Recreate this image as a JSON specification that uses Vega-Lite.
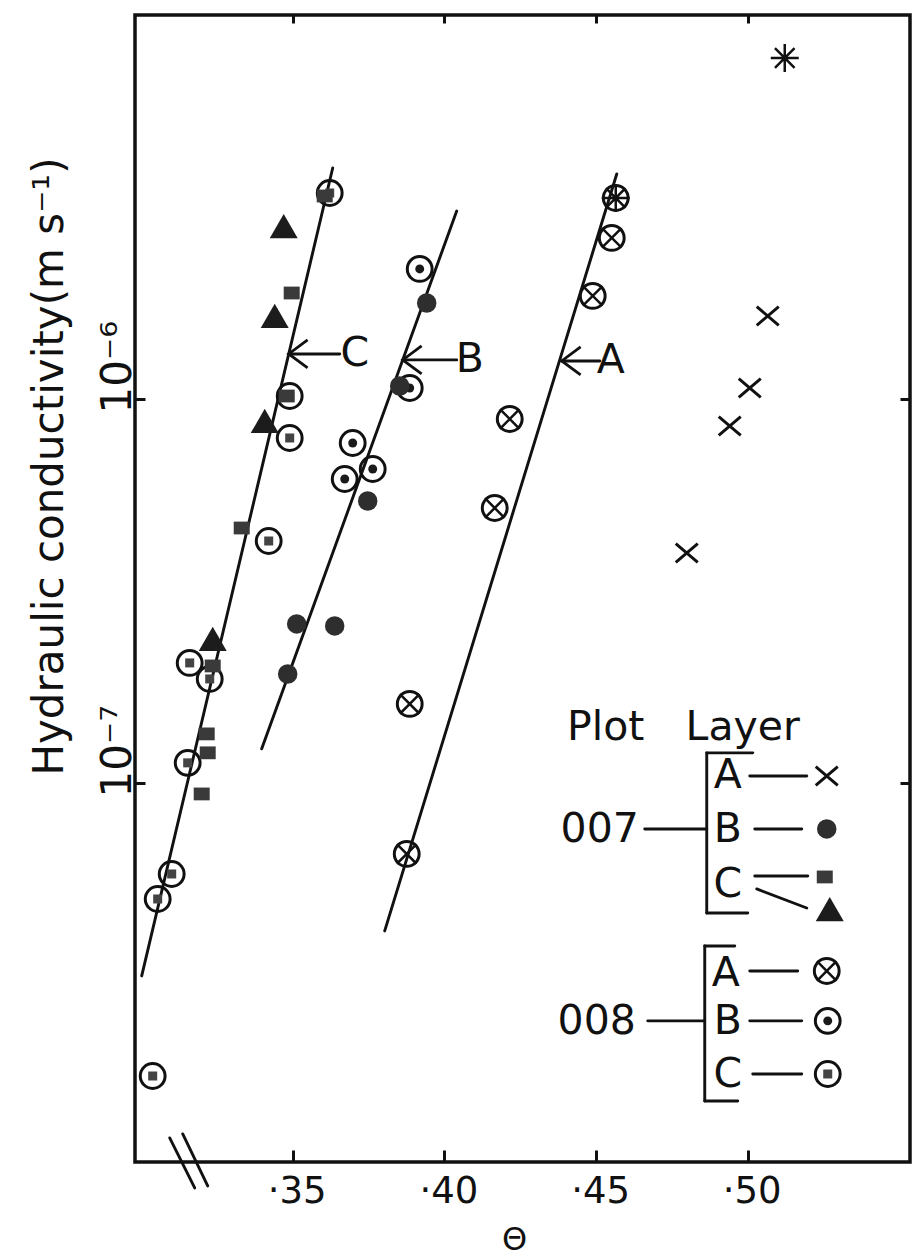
{
  "$schema": "https://vega.github.io/schema/vega-lite/v6.json",
  "width": 775,
  "height": 1147,
  "autosize": {"type": "none"},
  "padding": {"left": 135, "top": 15, "right": 5, "bottom": 94},
  "background": "white",
  "config": {
    "view": {"stroke": "#111", "strokeWidth": 3.5},
    "axis": {
      "domain": false,
      "grid": false,
      "tickColor": "#111",
      "tickWidth": 3,
      "labelColor": "#111",
      "titleColor": "#111",
      "labelFont": "DejaVu Sans",
      "titleFont": "DejaVu Sans",
      "titleFontWeight": "normal"
    },
    "text": {"font": "DejaVu Sans", "color": "#111"}
  },
  "datasets": {
    "segments": [
      {"kind": "fit C", "t1": 0.30021, "k1": 3.144e-8, "t2": 0.36318, "k2": 3.995e-6},
      {"kind": "fit B", "t1": 0.33977, "k1": 1.227e-7, "t2": 0.40406, "k2": 3.087e-6},
      {"kind": "fit A", "t1": 0.38032, "k1": 4.117e-8, "t2": 0.45682, "k2": 3.854e-6},
      {"kind": "pointer C", "t1": 0.34867, "k1": 1.310e-6, "t2": 0.36549, "k2": 1.310e-6},
      {"kind": "pointer B", "t1": 0.38626, "k1": 1.264e-6, "t2": 0.40406, "k2": 1.264e-6},
      {"kind": "pointer A", "t1": 0.43868, "k1": 1.256e-6, "t2": 0.45121, "k2": 1.256e-6},
      {"kind": "bracket 007", "t1": 0.48649, "k1": 1.198e-7, "t2": 0.48649, "k2": 4.586e-8},
      {"kind": "bracket 007", "t1": 0.48649, "k1": 1.198e-7, "t2": 0.50166, "k2": 1.198e-7},
      {"kind": "bracket 007", "t1": 0.48649, "k1": 4.586e-8, "t2": 0.50001, "k2": 4.586e-8},
      {"kind": "bracket 008", "t1": 0.48583, "k1": 3.763e-8, "t2": 0.48583, "k2": 1.485e-8},
      {"kind": "bracket 008", "t1": 0.48583, "k1": 3.763e-8, "t2": 0.49572, "k2": 3.763e-8},
      {"kind": "bracket 008", "t1": 0.48583, "k1": 1.485e-8, "t2": 0.49671, "k2": 1.485e-8},
      {"kind": "key", "t1": 0.46605, "k1": 7.590e-8, "t2": 0.48649, "k2": 7.590e-8},
      {"kind": "key", "t1": 0.50067, "k1": 1.043e-7, "t2": 0.51946, "k2": 1.043e-7},
      {"kind": "key", "t1": 0.50232, "k1": 7.590e-8, "t2": 0.51781, "k2": 7.590e-8},
      {"kind": "key", "t1": 0.50232, "k1": 5.725e-8, "t2": 0.51979, "k2": 5.725e-8},
      {"kind": "key", "t1": 0.50297, "k1": 5.296e-8, "t2": 0.51946, "k2": 4.724e-8},
      {"kind": "key", "t1": 0.46704, "k1": 2.401e-8, "t2": 0.48583, "k2": 2.401e-8},
      {"kind": "key", "t1": 0.50067, "k1": 3.238e-8, "t2": 0.51649, "k2": 3.238e-8},
      {"kind": "key", "t1": 0.50067, "k1": 2.401e-8, "t2": 0.51781, "k2": 2.401e-8},
      {"kind": "key", "t1": 0.50166, "k1": 1.746e-8, "t2": 0.51781, "k2": 1.746e-8},
      {"kind": "axis break", "t1": 0.30944, "k1": 1.190e-8, "t2": 0.31768, "k2": 8.818e-9},
      {"kind": "axis break", "t1": 0.31373, "k1": 1.219e-8, "t2": 0.32197, "k2": 8.925e-9}
    ],
    "pointers": [
      {"line": "C", "theta": 0.34867, "K": 1.310e-6},
      {"line": "B", "theta": 0.38626, "K": 1.264e-6},
      {"line": "A", "theta": 0.43868, "K": 1.256e-6}
    ],
    "points": [
      {"sym": "007A", "theta": 0.47990, "K": 3.971e-7},
      {"sym": "007A", "theta": 0.49407, "K": 8.504e-7},
      {"sym": "007A", "theta": 0.50067, "K": 1.068e-6},
      {"sym": "007A", "theta": 0.50660, "K": 1.645e-6},
      {"sym": "star", "theta": 0.51221, "K": 7.727e-6},
      {"sym": "007B", "theta": 0.39417, "K": 1.778e-6},
      {"sym": "007B", "theta": 0.38527, "K": 1.081e-6},
      {"sym": "007B", "theta": 0.37472, "K": 5.424e-7},
      {"sym": "007B", "theta": 0.35131, "K": 2.595e-7},
      {"sym": "007B", "theta": 0.36384, "K": 2.564e-7},
      {"sym": "007B", "theta": 0.34834, "K": 1.922e-7},
      {"sym": "007C-sq", "theta": 0.36054, "K": 3.378e-6},
      {"sym": "007C-sq", "theta": 0.34966, "K": 1.888e-6},
      {"sym": "007C-sq", "theta": 0.34801, "K": 1.018e-6},
      {"sym": "007C-sq", "theta": 0.33318, "K": 4.613e-7},
      {"sym": "007C-sq", "theta": 0.32362, "K": 2.017e-7},
      {"sym": "007C-sq", "theta": 0.32164, "K": 1.342e-7},
      {"sym": "007C-sq", "theta": 0.32197, "K": 1.198e-7},
      {"sym": "007C-sq", "theta": 0.31999, "K": 9.362e-8},
      {"sym": "007C-tri", "theta": 0.34703, "K": 2.821e-6},
      {"sym": "007C-tri", "theta": 0.34406, "K": 1.645e-6},
      {"sym": "007C-tri", "theta": 0.34076, "K": 8.764e-7},
      {"sym": "007C-tri", "theta": 0.32362, "K": 2.371e-7},
      {"sym": "008A*", "theta": 0.45649, "K": 3.337e-6},
      {"sym": "008A", "theta": 0.45517, "K": 2.627e-6},
      {"sym": "008A", "theta": 0.44890, "K": 1.855e-6},
      {"sym": "008A", "theta": 0.42154, "K": 8.870e-7},
      {"sym": "008A", "theta": 0.41659, "K": 5.201e-7},
      {"sym": "008A", "theta": 0.38857, "K": 1.606e-7},
      {"sym": "008A", "theta": 0.38758, "K": 6.533e-8},
      {"sym": "008B", "theta": 0.39186, "K": 2.181e-6},
      {"sym": "008B", "theta": 0.38857, "K": 1.068e-6},
      {"sym": "008B", "theta": 0.36977, "K": 7.681e-7},
      {"sym": "008B", "theta": 0.37637, "K": 6.572e-7},
      {"sym": "008B", "theta": 0.36714, "K": 6.189e-7},
      {"sym": "008C", "theta": 0.36219, "K": 3.439e-6},
      {"sym": "008C", "theta": 0.34900, "K": 1.018e-6},
      {"sym": "008C", "theta": 0.34900, "K": 7.915e-7},
      {"sym": "008C", "theta": 0.34208, "K": 4.267e-7},
      {"sym": "008C", "theta": 0.31603, "K": 2.054e-7},
      {"sym": "008C", "theta": 0.32263, "K": 1.866e-7},
      {"sym": "008C", "theta": 0.31537, "K": 1.128e-7},
      {"sym": "008C", "theta": 0.31010, "K": 5.794e-8},
      {"sym": "008C", "theta": 0.30548, "K": 4.987e-8},
      {"sym": "008C", "theta": 0.30383, "K": 1.725e-8},
      {"sym": "007A", "role": "key", "theta": 0.52605, "K": 1.043e-7},
      {"sym": "007B", "role": "key", "theta": 0.52605, "K": 7.590e-8},
      {"sym": "007C-sq", "role": "key", "theta": 0.52540, "K": 5.691e-8},
      {"sym": "007C-tri", "role": "key", "theta": 0.52704, "K": 4.696e-8},
      {"sym": "008A", "role": "key", "theta": 0.52605, "K": 3.238e-8},
      {"sym": "008B", "role": "key", "theta": 0.52638, "K": 2.401e-8},
      {"sym": "008C", "role": "key", "theta": 0.52638, "K": 1.746e-8}
    ],
    "labels": [
      {"label": "C", "theta": 0.37043, "K": 1.310e-6},
      {"label": "B", "theta": 0.40835, "K": 1.264e-6},
      {"label": "A", "theta": 0.45484, "K": 1.256e-6},
      {"label": "Plot", "theta": 0.45319, "K": 1.391e-7},
      {"label": "Layer", "theta": 0.49836, "K": 1.391e-7},
      {"label": "007", "theta": 0.45121, "K": 7.545e-8},
      {"label": "008", "theta": 0.45022, "K": 2.386e-8},
      {"label": "A", "theta": 0.49341, "K": 1.043e-7},
      {"label": "B", "theta": 0.49341, "K": 7.545e-8},
      {"label": "C", "theta": 0.49341, "K": 5.424e-8},
      {"label": "A", "theta": 0.49276, "K": 3.180e-8},
      {"label": "B", "theta": 0.49341, "K": 2.386e-8},
      {"label": "C", "theta": 0.49341, "K": 1.736e-8}
    ]
  },
  "resolve": {"axis": {"x": "independent", "y": "independent"}},
  "layer": [
    {
      "data": {"name": "segments"},
      "mark": {"type": "rule", "strokeWidth": 2.9, "color": "#111", "strokeCap": "round"},
      "encoding": {
        "x": {
          "field": "t1", "type": "quantitative",
          "scale": {"domain": [0.298, 0.5535], "nice": false, "zero": false},
          "axis": {
            "orient": "bottom",
            "values": [0.35, 0.4, 0.45, 0.5],
            "tickSize": -12,
            "labelExpr": "'·' + round(datum.value * 100)",
            "labelFontSize": 37,
            "labelPadding": 23,
            "labelOffset": 4,
            "title": "Θ",
            "titleFontSize": 32,
            "titleX": 379,
            "titleY": 77,
            "titleBaseline": "middle",
            "titleAlign": "center"
          }
        },
        "x2": {"field": "t2"},
        "y": {
          "field": "k1", "type": "quantitative",
          "scale": {"type": "log", "domain": [1.03e-8, 1e-5], "nice": false},
          "axis": {
            "orient": "left",
            "values": [1e-7, 1e-6],
            "tickSize": -10,
            "labelExpr": "datum.value < 5e-7 ? '10⁻⁷' : '10⁻⁶'",
            "labelAngle": 270,
            "labelAlign": "left",
            "labelBaseline": "alphabetic",
            "labelFontSize": 42,
            "labelPadding": 15,
            "labelOffset": 14,
            "title": "Hydraulic conductivity(m s⁻¹)",
            "titleFontSize": 42,
            "titleAngle": 270,
            "titleX": -73,
            "titleY": 451,
            "titleAlign": "center",
            "titleBaseline": "alphabetic"
          }
        },
        "y2": {"field": "k2"}
      }
    },
    {
      "data": {"name": "pointers"},
      "mark": {"type": "point", "shape": "M1.35,-1L0,0L1.35,1", "filled": false, "size": 784, "strokeWidth": 2.8, "color": "#111", "opacity": 1},
      "encoding": {
        "x": {
          "field": "theta", "type": "quantitative",
          "scale": {"domain": [0.298, 0.5535], "nice": false, "zero": false},
          "axis": {"orient": "top", "values": [0.35, 0.4, 0.45, 0.5], "tickSize": -8, "labels": false, "title": null}
        },
        "y": {
          "field": "K", "type": "quantitative",
          "scale": {"type": "log", "domain": [1.03e-8, 1e-5], "nice": false},
          "axis": {"orient": "right", "values": [1e-7, 1e-6], "tickSize": -10, "labels": false, "title": null}
        }
      }
    },
    {
      "data": {"name": "points"},
      "transform": [{"filter": "indexof(['008A', '008A*', '008B', '008C'], datum.sym) >= 0"}],
      "mark": {"type": "point", "shape": "circle", "filled": false, "size": 616, "strokeWidth": 3, "color": "#111", "opacity": 1},
      "encoding": {
        "x": {"field": "theta", "type": "quantitative", "scale": {"domain": [0.298, 0.5535], "nice": false, "zero": false}, "axis": null},
        "y": {"field": "K", "type": "quantitative", "scale": {"type": "log", "domain": [1.03e-8, 1e-5], "nice": false}, "axis": null}
      }
    },
    {
      "data": {"name": "points"},
      "transform": [{"filter": "datum.sym === '008A'"}],
      "mark": {"type": "point", "shape": "M-0.7,-0.7L0.7,0.7M0.7,-0.7L-0.7,0.7", "filled": false, "size": 784, "strokeWidth": 2.5, "color": "#111", "opacity": 1},
      "encoding": {
        "x": {"field": "theta", "type": "quantitative", "scale": {"domain": [0.298, 0.5535], "nice": false, "zero": false}, "axis": null},
        "y": {"field": "K", "type": "quantitative", "scale": {"type": "log", "domain": [1.03e-8, 1e-5], "nice": false}, "axis": null}
      }
    },
    {
      "data": {"name": "points"},
      "transform": [{"filter": "datum.sym === '008A*' || datum.sym === 'star'"}],
      "mark": {"type": "point", "shape": "M0,-1L0,1M-1,0L1,0M-0.7,-0.7L0.7,0.7M0.7,-0.7L-0.7,0.7", "filled": false, "size": 784, "strokeWidth": 2.5, "color": "#111", "opacity": 1},
      "encoding": {
        "x": {"field": "theta", "type": "quantitative", "scale": {"domain": [0.298, 0.5535], "nice": false, "zero": false}, "axis": null},
        "y": {"field": "K", "type": "quantitative", "scale": {"type": "log", "domain": [1.03e-8, 1e-5], "nice": false}, "axis": null}
      }
    },
    {
      "data": {"name": "points"},
      "transform": [{"filter": "datum.sym === '008B'"}],
      "mark": {"type": "point", "shape": "circle", "filled": true, "size": 80, "color": "#1a1a1a", "opacity": 1},
      "encoding": {
        "x": {"field": "theta", "type": "quantitative", "scale": {"domain": [0.298, 0.5535], "nice": false, "zero": false}, "axis": null},
        "y": {"field": "K", "type": "quantitative", "scale": {"type": "log", "domain": [1.03e-8, 1e-5], "nice": false}, "axis": null}
      }
    },
    {
      "data": {"name": "points"},
      "transform": [{"filter": "datum.sym === '008C'"}],
      "mark": {"type": "point", "shape": "square", "filled": true, "size": 81, "color": "#444", "opacity": 1},
      "encoding": {
        "x": {"field": "theta", "type": "quantitative", "scale": {"domain": [0.298, 0.5535], "nice": false, "zero": false}, "axis": null},
        "y": {"field": "K", "type": "quantitative", "scale": {"type": "log", "domain": [1.03e-8, 1e-5], "nice": false}, "axis": null}
      }
    },
    {
      "data": {"name": "points"},
      "transform": [{"filter": "datum.sym === '007A'"}],
      "mark": {"type": "point", "shape": "M-1,-0.85L1,0.85M1,-0.85L-1,0.85", "filled": false, "size": 484, "strokeWidth": 3, "color": "#111", "opacity": 1},
      "encoding": {
        "x": {"field": "theta", "type": "quantitative", "scale": {"domain": [0.298, 0.5535], "nice": false, "zero": false}, "axis": null},
        "y": {"field": "K", "type": "quantitative", "scale": {"type": "log", "domain": [1.03e-8, 1e-5], "nice": false}, "axis": null}
      }
    },
    {
      "data": {"name": "points"},
      "transform": [{"filter": "datum.sym === '007B'"}],
      "mark": {"type": "point", "shape": "circle", "filled": true, "size": 380, "color": "#2e2e2e", "opacity": 1},
      "encoding": {
        "x": {"field": "theta", "type": "quantitative", "scale": {"domain": [0.298, 0.5535], "nice": false, "zero": false}, "axis": null},
        "y": {"field": "K", "type": "quantitative", "scale": {"type": "log", "domain": [1.03e-8, 1e-5], "nice": false}, "axis": null}
      }
    },
    {
      "data": {"name": "points"},
      "transform": [{"filter": "datum.sym === '007C-sq'"}],
      "mark": {"type": "point", "shape": "M-1,-0.8L1,-0.8L1,0.8L-1,0.8Z", "filled": true, "size": 256, "color": "#3a3a3a", "opacity": 1},
      "encoding": {
        "x": {"field": "theta", "type": "quantitative", "scale": {"domain": [0.298, 0.5535], "nice": false, "zero": false}, "axis": null},
        "y": {"field": "K", "type": "quantitative", "scale": {"type": "log", "domain": [1.03e-8, 1e-5], "nice": false}, "axis": null}
      }
    },
    {
      "data": {"name": "points"},
      "transform": [{"filter": "datum.sym === '007C-tri'"}],
      "mark": {"type": "point", "shape": "triangle-up", "filled": true, "size": 784, "color": "#1c1c1c", "opacity": 1},
      "encoding": {
        "x": {"field": "theta", "type": "quantitative", "scale": {"domain": [0.298, 0.5535], "nice": false, "zero": false}, "axis": null},
        "y": {"field": "K", "type": "quantitative", "scale": {"type": "log", "domain": [1.03e-8, 1e-5], "nice": false}, "axis": null}
      }
    },
    {
      "data": {"name": "labels"},
      "mark": {"type": "text", "fontSize": 41, "align": "center", "baseline": "middle", "color": "#111"},
      "encoding": {
        "x": {"field": "theta", "type": "quantitative", "scale": {"domain": [0.298, 0.5535], "nice": false, "zero": false}, "axis": null},
        "y": {"field": "K", "type": "quantitative", "scale": {"type": "log", "domain": [1.03e-8, 1e-5], "nice": false}, "axis": null},
        "text": {"field": "label", "type": "nominal"}
      }
    }
  ]
}
